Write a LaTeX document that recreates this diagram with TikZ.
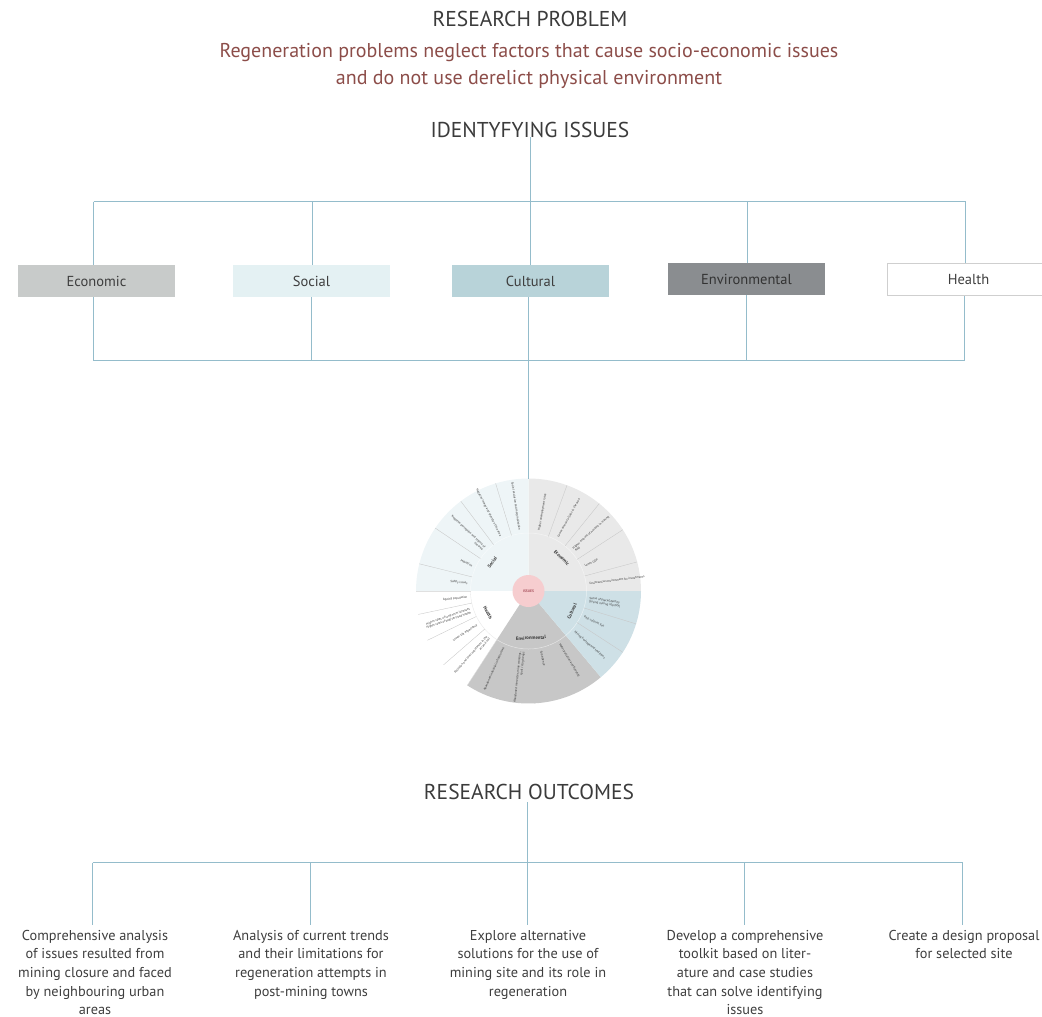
\documentclass[tikz,border=0pt]{standalone}
\usepackage{fontspec}
\setmainfont{PT Sans}

\definecolor{linec}{HTML}{94BCCB}
\definecolor{titlec}{HTML}{3B3B3B}
\definecolor{textc}{HTML}{3E3E3E}
\definecolor{redc}{HTML}{8C4D49}
\definecolor{econbox}{HTML}{C8CBCA}
\definecolor{socbox}{HTML}{E4F1F3}
\definecolor{cultbox}{HTML}{B8D3D9}
\definecolor{envbox}{HTML}{8A8D90}
\definecolor{healthrule}{HTML}{CFCFCF}
\definecolor{econseg}{HTML}{E9E9E9}
\definecolor{socseg}{HTML}{EEF5F7}
\definecolor{healthseg}{HTML}{FFFFFF}
\definecolor{envseg}{HTML}{C7C7C7}
\definecolor{cultseg}{HTML}{CEE0E6}
\definecolor{issuefill}{HTML}{F6CDCF}
\definecolor{issuetext}{HTML}{A8505C}

\tikzset{
  link/.style={draw=linec, line width=1pt},
  catbox/.style={minimum width=157pt, minimum height=32pt, inner sep=0pt,
    text depth=0pt, font=\fontsize{14.5}{16}\selectfont, text=textc},
  heading/.style={font=\fontsize{21.5}{24}\selectfont, text=titlec, inner sep=0pt},
  outcome/.style={font=\fontsize{14.3}{18.6}\selectfont, align=center,
    text=textc, anchor=north, inner sep=0pt},
  spoke/.style={draw=black!22, line width=0.35pt},
  seglab/.style={font=\fontsize{3.1}{3.6}\selectfont, text=black!80, inner sep=0.3pt},
  catlab/.style={font=\bfseries\fontsize{4.8}{5}\selectfont, text=black!80, inner sep=0pt},
}

% radial label on the right half (reads outward) and on the left half (reads inward)
\newcommand\seglabR[3]{\node[seglab, rotate=#2, anchor=west, align=left] (#1) at (#2:61) {#3};}
\newcommand\seglabL[3]{\node[seglab, rotate=#2-180, anchor=east, align=right] (#1) at (#2:61) {#3};}

\begin{document}
\begin{tikzpicture}[x=1pt,y=-1pt]
\useasboundingbox (0,0) rectangle (1042,1017);

% ---------- headings ----------
\node[heading] (problem) at (530,19) {RESEARCH PROBLEM};
\node[font=\fontsize{20}{27}\selectfont, text=redc, align=center, inner sep=0pt] (statement) at (529,66)
  {Regeneration problems neglect factors that cause socio-economic issues\\
   and do not use derelict physical environment};
\node[heading] (identify) at (530,130) {IDENTYFYING ISSUES};

% ---------- issue categories ----------
\node[catbox, fill=econbox] (econ) at (96.5,281) {Economic};
\node[catbox, fill=socbox] (soc) at (311.5,281) {Social};
\node[catbox, fill=cultbox] (cult) at (530.5,281) {Cultural};
\node[catbox, fill=envbox, text=black!80] (env) at (746.5,279) {Environmental};
\node[catbox, fill=white, draw=healthrule, line width=1.2pt, minimum width=162pt] (health) at (968.5,279.5) {Health};

% upper bus
\coordinate (idtop) at (530.5,137);
\coordinate (busTL) at (93.5,201.5);
\coordinate (busTR) at (965.5,201.5);
\draw[link] (idtop) -- (530.5,201.5);
\draw[link] (busTL) -- (busTR);
\draw[link] (busTL) -- (busTL |- econ.north);
\draw[link] (312.5,201.5) -- (312.5,265);
\draw[link] (530.5,201.5) -- (530.5,265);
\draw[link] (747.5,201.5) -- (747.5,263);
\draw[link] (busTR) -- (965.5,263);

% lower bus
\coordinate (busBL) at (93.5,360.5);
\coordinate (busBR) at (964.5,360.5);
\draw[link] (busBL) -- (busBR);
\draw[link] (93.5,297) -- (busBL);
\draw[link] (311.5,297) -- (311.5,360.5);
\draw[link] (746.5,295) -- (746.5,360.5);
\draw[link] (964.5,296) -- (busBR);

% ---------- issues wheel ----------
\begin{scope}[shift={(528.5,591)}, x=1pt, y=1pt]
  \fill[econseg]   (0,0) -- (0:112.5)   arc[start angle=0,   end angle=90,  radius=112.5] -- cycle;
  \fill[socseg]    (0,0) -- (90:112.5)  arc[start angle=90,  end angle=180, radius=112.5] -- cycle;
  \fill[healthseg] (0,0) -- (180:112.5) arc[start angle=180, end angle=237, radius=112.5] -- cycle;
  \fill[envseg]    (0,0) -- (237:112.5) arc[start angle=237, end angle=310, radius=112.5] -- cycle;
  \fill[cultseg]   (0,0) -- (310:112.5) arc[start angle=310, end angle=360, radius=112.5] -- cycle;

  % ring between category names and items
  \draw[white, opacity=0.55, line width=0.5pt] (0,0) circle[radius=58];
  \draw[black!10, line width=0.3pt] (180:58) arc[start angle=180, end angle=237, radius=58];

  % item dividers
  \foreach \a in {15,33,51,70, 107,127,146,166, 192,206,221, 255,273,291, 327,343}
    \draw[spoke] (\a:58) -- (\a:112.5);
  \draw[black!12, line width=0.35pt] (180:58) -- (180:112.5);
  \draw[black!12, line width=0.35pt] (237:58) -- (237:112.5);

  \coordinate (wheeltop) at (90:112.5);

  % centre
  \node[circle, fill=issuefill, minimum size=32pt, inner sep=0pt,
        font=\bfseries\fontsize{3.6}{4}\selectfont, text=issuetext] (issues) at (0,0) {ISSUES};

  % category names
  \node[catlab, rotate=-45] (wEcon) at (45:47) {Economic};
  \node[catlab, rotate=52] (wSoc) at (142:46) {Social};
  \node[catlab, rotate=-62] (wHealth) at (208:46) {Health};
  \node[catlab, rotate=3] (wEnv) at (273:47) {Environmental};
  \node[catlab, rotate=65] (wCult) at (335:48) {Cultural};

  % economic items
  \seglabR{e1}{80}{Higher unemployment rates}
  \seglabR{e2}{61}{Lower amount of jobs in the area}
  \seglabR{e3}{42}{Higher amount of workers in mining\\field}
  \seglabR{e4}{24}{Lower GDP}
  \seglabR{e5}{7}{Unattractive environment for investments}

  % social items
  \seglabL{s1}{98.5}{Social exclusion and marginalisation}
  \seglabL{s2}{117}{Negative image and identity of the area}
  \seglabL{s3}{136.5}{Negative perception and stigma of\\the area}
  \seglabL{s4}{156}{Migration}
  \seglabL{s5}{173}{Safety issues}

  % health items
  \seglabL{h1}{186}{Ageing population}
  \seglabL{h2}{199}{Higher rates of long-term illnesses\\Higher rates of bad/very bad health}
  \seglabL{h3}{213.5}{Lower life expectancy}
  \seglabL{h4}{229}{Pollution and toxic substances in the\\air and soil}

  % environmental items
  \seglabL{v1}{246}{Abandoned industrial infrastructure}
  \seglabL{v2}{264}{Abandoned mine sites, mine workings,\\spoil / slag heaps}
  \seglabR{v3}{282}{Subsidence}
  \seglabR{v4}{300.5}{Water pollution and flooding}

  % cultural items
  \seglabR{c1}{351.5}{Sense of place/identity\\(Losing mining identity)}
  \seglabR{c2}{335}{Past cultural ties}
  \seglabR{c3}{318.5}{Mining heritage and traditions}
\end{scope}

% cultural branch continues down to the wheel
\coordinate (cultbase) at (528.5,297);
\draw[link] (cultbase) -- (wheeltop);

% ---------- outcomes ----------
\node[heading] (outcomes) at (529,792) {RESEARCH OUTCOMES};

\coordinate (busOL) at (92.5,862.5);
\coordinate (busOR) at (962.5,862.5);
\draw[link] (527.5,802) -- (527.5,925);
\draw[link] (busOL) -- (busOR);
\draw[link] (busOL) -- (92.5,925);
\draw[link] (310.5,862.5) -- (310.5,925);
\draw[link] (744.5,862.5) -- (744.5,925);
\draw[link] (busOR) -- (962.5,925);

\node[outcome] (o1) at (95,930) {Comprehensive analysis\\of issues resulted from\\mining closure and faced\\by neighbouring urban\\areas};
\node[outcome] (o2) at (311,930) {Analysis of current trends\\and their limitations for\\regeneration attempts in\\post-mining towns};
\node[outcome] (o3) at (528,930) {Explore alternative\\solutions for the use of\\mining site and its role in\\regeneration};
\node[outcome] (o4) at (745,930) {Develop a comprehensive\\toolkit based on liter-\\ature and case studies\\that can solve identifying\\issues};
\node[outcome] (o5) at (964,930) {Create a design proposal\\for selected site};
\end{tikzpicture}
\end{document}
